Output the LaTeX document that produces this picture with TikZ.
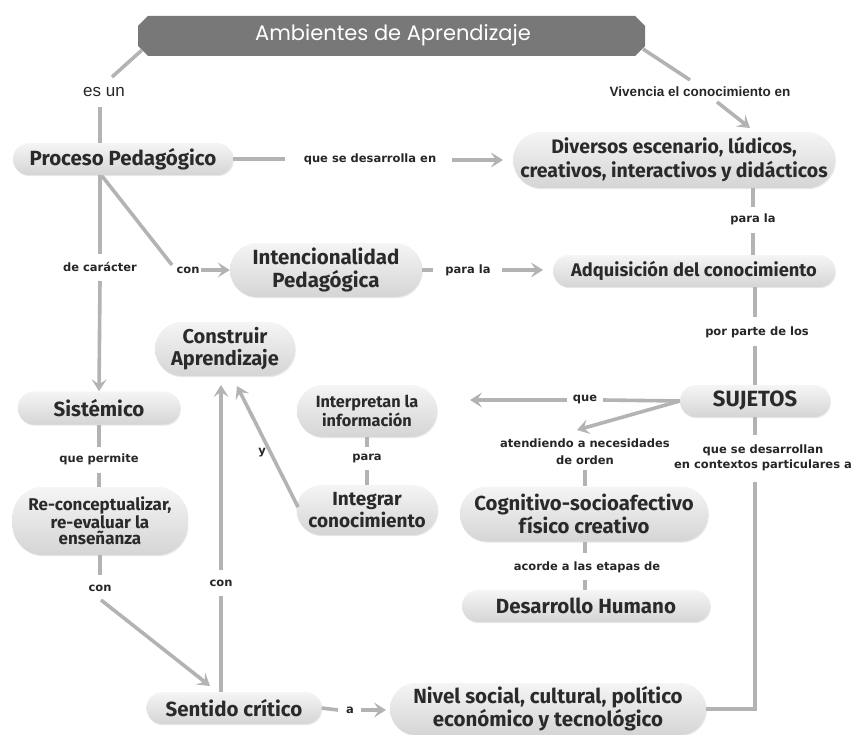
\documentclass[tikz,border=0pt]{standalone}
\usepackage{fontspec}
\usetikzlibrary{arrows.meta,shadows}
\newfontfamily\nf{Fira Sans}
\newfontfamily\lf{DejaVu Sans}
\newfontfamily\af{Liberation Sans}
\newfontfamily\tf{Poppins}
\definecolor{lineg}{HTML}{B3B3B3}
\definecolor{titleg}{HTML}{787878}
\definecolor{txt}{HTML}{2A2A2A}
\newcommand{\fs}[2]{\nf\bfseries\fontsize{#1}{#2}\selectfont}
\tikzset{
  pill/.style={draw=none, top color=gray!8, bottom color=gray!33, inner sep=0pt, align=center,
     text=txt, font=\fs{20.5}{23},
     drop shadow={shadow xshift=0.8pt, shadow yshift=-1.2pt, opacity=0.18}},
  lab/.style={font=\lf\bfseries\fontsize{11.5}{16}\selectfont, text=black!85, inner sep=1pt, align=center},
  conn/.style={draw=lineg, line width=3.6pt},
  arr/.style={conn, -{Stealth[length=12pt,width=15pt,inset=5pt]}}
}
\begin{document}
\begin{tikzpicture}[x=1pt,y=-1pt]
\useasboundingbox (0,0) rectangle (853,735);
% title
\fill[titleg] (138,26) -- (148,16) -- (635,16) -- (645,26) -- (645,46) -- (635,56) -- (148,56) -- (138,46) -- cycle;
\node[text=white, font=\tf\fontsize{21}{24}\selectfont] (title) at (393,35) {Ambientes de Aprendizaje};
\coordinate (tl) at (142,50);
\coordinate (tle) at (112,77);
\coordinate (tr) at (643,49);
\coordinate (tre) at (690,80);

% nodes
\node[pill, minimum width=220, minimum height=32, rounded corners=16] (proc) at (123,159) {Proceso Pedagógico};
\node[pill, minimum width=322, minimum height=56, rounded corners=28, font=\fs{19.5}{24}] (div) at (674,160) {Diversos escenario, lúdicos,\\creativos, interactivos y didácticos};
\node[pill, minimum width=282, minimum height=32, rounded corners=16, font=\fs{18.3}{21}] (adq) at (694,271) {Adquisición del conocimiento};
\node[pill, minimum width=192, minimum height=54, rounded corners=27, font=\fs{20.5}{23}] (inten) at (326,270) {Intencionalidad\\Pedagógica};
\node[pill, minimum width=162, minimum height=33, rounded corners=16] (sist) at (99,408) {Sistémico};
\node[pill, minimum width=175, minimum height=68, rounded corners=30, font=\fs{17}{16}] (recon) at (100,521) {Re-conceptualizar,\\re-evaluar la\\enseñanza};
\node[pill, minimum width=140, minimum height=54, rounded corners=27, font=\fs{20}{22}] (constr) at (225,349) {Construir\\Aprendizaje};
\node[pill, minimum width=140, minimum height=52, rounded corners=26, font=\fs{16.3}{18.5}] (interp) at (367,411) {Interpretan la\\información};
\node[pill, minimum width=141, minimum height=50, rounded corners=25, font=\fs{19}{21.5}] (integ) at (367,510) {Integrar\\conocimiento};
\node[pill, minimum width=150, minimum height=32, rounded corners=16, font=\fs{22}{24}] (suj) at (755,401) {SUJETOS};
\node[pill, minimum width=248, minimum height=55, rounded corners=27, font=\fs{20.3}{22.5}] (cogn) at (584,514) {Cognitivo-socioafectivo\\físico creativo};
\node[pill, minimum width=248, minimum height=32, rounded corners=16] (desa) at (586,606) {Desarrollo Humano};
\node[pill, minimum width=175, minimum height=32, rounded corners=16] (sent) at (234,708) {Sentido crítico};
\node[pill, minimum width=316, minimum height=52, rounded corners=26, font=\fs{20.5}{23}] (nivel) at (548,709) {Nivel social, cultural, político\\económico y tecnológico};

% labels
\node[font=\af\fontsize{17}{19}\selectfont, text=black!85] (esun) at (104,92) {es un};
\node[font=\af\bfseries\fontsize{13.5}{16}\selectfont, text=black!85] (viv) at (700,92) {Vivencia el conocimiento en};
\node[lab] (que1) at (370,159) {que se desarrolla en};
\node[lab] (carac) at (100,267) {de carácter};
\node[lab] (con1) at (188,270) {con};
\node[lab] (para1) at (468,270) {para la};
\node[lab] (para2) at (753,219) {para la};
\node[lab] (porp) at (757,332) {por parte de los};
\node[lab] (que2) at (585,399) {que};
\node[lab, font=\lf\bfseries\fontsize{11.5}{17}\selectfont] (aten) at (585,452) {atendiendo a necesidades\\de orden};
\node[lab] (acor) at (587,567) {acorde a las etapas de};
\node[lab, font=\lf\bfseries\fontsize{11.5}{15.5}\selectfont] (ctx) at (763,458) {que se desarrollan\\en contextos particulares a};
\node[lab] (para3) at (367,458) {para};
\node[lab] (yy) at (262,453) {y};
\node[lab] (qp) at (99,459) {que permite};
\node[lab] (con2) at (100,588) {con};
\node[lab] (con3) at (221,583) {con};
\node[lab] (aa) at (350,710) {a};

% connectors
\draw[conn] (tl) -- (tle);
\draw[conn] (100,107) coordinate (u1) -- (u1 |- proc.north);
\draw[conn] (tr) -- (tre);
\draw[arr] (717,102) coordinate (v1) -- (750,128) coordinate (v2);

\draw[conn] (proc.east) -- (285,159) coordinate (p1);
\draw[arr] (452,160) coordinate (p2) -- (503,160) coordinate (p3);

\draw[conn] (proc.south -| carac) -- (100,254) coordinate (b1);
\draw[arr] (100,281) coordinate (b2) -- (sist.north);

\draw[conn] (102,176) coordinate (d1) -- (172,265) coordinate (d2);
\draw[arr] (con1.east) -- (inten.west);

\draw[conn] (inten.east) -- (433,270) coordinate (i1);
\draw[arr] (502,270) coordinate (i2) -- (543,270) coordinate (i3);

\draw[conn] (div.south -| para2) -- (753,207) coordinate (m1);
\draw[conn] (753,233) coordinate (m2) -- (adq.north -| para2);

\draw[conn] (adq.south -| suj) -- (755,317) coordinate (a1);
\draw[conn] (755,346) coordinate (a2) -- (suj.north);

\draw[conn] (suj.west) -- (603,400) coordinate (q0);
\draw[arr] (567,400) coordinate (q3) -- (470,400) coordinate (q1);
\draw[arr] (suj.west) -- (577,430) coordinate (q2);
\draw[conn] (585,470) coordinate (n1) -- (cogn.north -| n1);

\draw[conn] (cogn.south -| 585,0) -- (585,553) coordinate (c1);
\draw[conn] (585,580) coordinate (c2) -- (desa.north -| 585,0);

\draw[conn] (suj.south) -- (755,435) coordinate (s1);
\draw[conn] (755,482) coordinate (s2) -- (755,709) coordinate (s3) -- (nivel.east);

\draw[conn] (interp.south) -- (367,447) coordinate (r1);
\draw[conn] (367,470) coordinate (r2) -- (integ.north);
\draw[arr] (298,507) coordinate (g1) -- (237,386) coordinate (g2);

\draw[conn] (sist.south -| qp) -- (99,447) coordinate (k1);
\draw[conn] (99,473) coordinate (k2) -- (recon.north -| qp);

\draw[conn] (recon.south -| con2) -- (100,575) coordinate (e1);
\draw[arr] (101,600) coordinate (e2) -- (210,686) coordinate (e3);

\draw[conn] (sent.north -| con3) -- (221,596) coordinate (f1);
\draw[arr] (221,570) coordinate (f2) -- (221,385) coordinate (f3);

\draw[conn] (sent.east) -- (338,710) coordinate (h1);
\draw[arr] (361,710) coordinate (h2) -- (386,710) coordinate (h3);
\end{tikzpicture}
\end{document}
